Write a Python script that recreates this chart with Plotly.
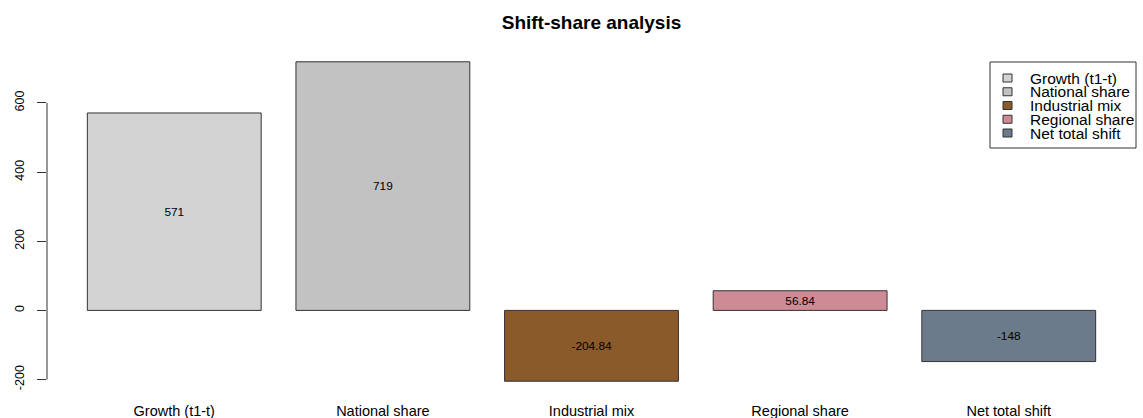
import plotly.graph_objects as go

categories = ["Growth (t1-t)", "National share", "Industrial mix", "Regional share", "Net total shift"]
values = [571, 719, -204.84, 56.84, -148]
labels = ["571", "719", "-204.84", "56.84", "-148"]
colors = ["#D3D3D3", "#C2C2C2", "#8B5A2B", "#CD8C95", "#6C7B8B"]
y_ticks = [-200, 0, 200, 400, 600]

W, H = 1143, 418
L, R, T, B = 47, 7, 49, 24
pw, ph = W - L - R, H - T - B

FONT = "Liberation Sans, Arial, sans-serif"

fig = go.Figure()
fig.add_trace(go.Bar(
    x=categories, y=values, text=labels,
    textposition="inside", insidetextanchor="middle",
    textfont=dict(size=13, color="black", family=FONT),
    marker=dict(color=colors, line=dict(color="#333333", width=1)),
    showlegend=False, hoverinfo="x+y",
))

shapes = []
annotations = []
# y axis line from -200 to 600
shapes.append(dict(type="line", xref="paper", yref="y", x0=0, x1=0,
                   y0=min(y_ticks), y1=max(y_ticks), line=dict(color="#333333", width=1)))

# manual legend (R style)
def px2x(px):
    return (px - L) / pw

def py2y(py):
    return (H - B - py) / ph

shapes.append(dict(type="rect", xref="paper", yref="paper",
                   x0=px2x(990), x1=px2x(1136), y0=py2y(148), y1=py2y(62),
                   line=dict(color="#333333", width=1), fillcolor="white", layer="above"))
row0, step = 78, 13.75
for i, (c, name) in enumerate(zip(colors, categories)):
    cy = row0 + i * step
    shapes.append(dict(type="rect", xref="paper", yref="paper",
                       x0=px2x(1003), x1=px2x(1012), y0=py2y(cy + 4), y1=py2y(cy - 4),
                       line=dict(color="#333333", width=1), fillcolor=c, layer="above"))
    annotations.append(dict(text=name, xref="paper", yref="paper",
                            x=px2x(1028), y=py2y(cy), xanchor="left", yanchor="middle",
                            showarrow=False, font=dict(size=15.5, color="black", family=FONT)))

fig.update_layout(
    width=W, height=H,
    margin=dict(l=L, r=R, t=T, b=B, autoexpand=False),
    template="none",
    paper_bgcolor="white", plot_bgcolor="white",
    bargap=0.2 / 1.2,
    title=dict(text="<b>Shift-share analysis</b>", x=0.5, xref="paper", xanchor="center",
               y=1 - 22 / H, yanchor="middle", font=dict(size=19, color="black", family=FONT)),
    xaxis=dict(range=[-0.61, 4.61], showgrid=False, zeroline=False, showline=False,
               ticks="", ticklabelstandoff=6,
               tickfont=dict(size=14.5, color="black", family=FONT), automargin=False),
    yaxis=dict(range=[-241.8, 756], tickvals=y_ticks, ticktext=[str(v) for v in y_ticks],
               showgrid=False, zeroline=False, showline=False, ticks="outside", ticklen=9,
               tickcolor="#333333", tickangle=-90, ticklabelstandoff=8,
               tickfont=dict(size=12.5, color="black", family=FONT), automargin=False),
    shapes=shapes, annotations=annotations,
    showlegend=False,
)
fig.update_layout(uniformtext=dict(minsize=11, mode="show"))

fig.write_html("out.html", config={"displayModeBar": False},
               post_script="document.body.style.margin='0px';")
